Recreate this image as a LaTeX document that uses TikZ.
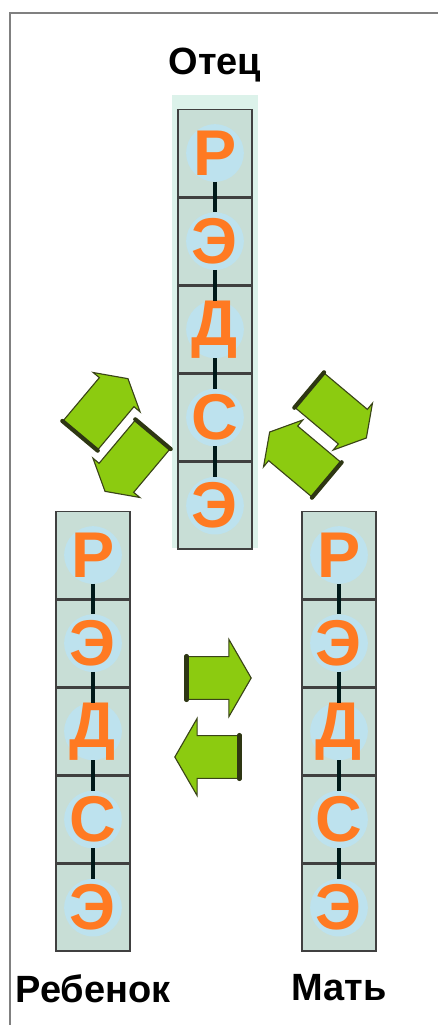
\documentclass[tikz,border=0pt]{standalone}
\usepackage{fontspec}
\setmainfont{Liberation Sans}
\usetikzlibrary{positioning}
\usetikzlibrary{shapes.arrows}

\definecolor{cellfill}{HTML}{C8DED6}
\definecolor{blob}{HTML}{BDE2EE}
\definecolor{panel}{HTML}{DCF2EA}
\definecolor{letter}{HTML}{FF7A22}
\definecolor{arrowfill}{HTML}{8CCB10}
\definecolor{arrowedge}{HTML}{3A4418}

\begin{document}
\begin{tikzpicture}[x=0.025cm,y=-0.025cm,
		cell/.style={rectangle,draw=black!75,line width=1.1pt,fill=cellfill,
			minimum width=1.85cm,minimum height=2.165cm,inner sep=0pt,
			path picture={\fill[blob] (path picture bounding box.center) circle (0.72cm);},
			font=\fontsize{46}{46}\selectfont\bfseries,text=letter},
		link/.style={line width=3.5pt,draw=black!80!teal,shorten <=0.72cm,shorten >=0.72cm},
		swap arrow/.style={single arrow,draw=arrowedge,fill=arrowfill,line width=0.8pt,
			inner xsep=0pt,inner ysep=0.55cm,single arrow head indent=0cm,
			single arrow tip angle=120,single arrow head extend=0.2cm,minimum height=1.85cm},
		tail edge/.style={line width=3pt,draw=arrowedge!80!black,line cap=round},
		name label/.style={font=\fontsize{27}{27}\selectfont\bfseries}]

	\useasboundingbox (0,0) rectangle (438,1025);
	\draw[gray,line width=2pt] (10,1025) -- (10,13) -- (438,13);

	% father column
	\fill[panel] (172,95) rectangle (258,548);
	\node[cell] (f1) at (215,153) {Р};
	\node[cell] (f2) [below=0cm of f1] {Э};
	\node[cell] (f3) [below=0cm of f2] {Д};
	\node[cell] (f4) [below=0cm of f3] {С};
	\node[cell] (f5) [below=0cm of f4] {Э};
	\node[name label] (father) [above=0.55cm of f1] {Отец};

	% child column
	\node[cell] (c1) at (93,555) {Р};
	\node[cell] (c2) [below=0cm of c1] {Э};
	\node[cell] (c3) [below=0cm of c2] {Д};
	\node[cell] (c4) [below=0cm of c3] {С};
	\node[cell] (c5) [below=0cm of c4] {Э};
	\node[name label] (child) [below=0.45cm of c5] {Ребенок};

	% mother column
	\node[cell] (m1) at (339,555) {Р};
	\node[cell] (m2) [below=0cm of m1] {Э};
	\node[cell] (m3) [below=0cm of m2] {Д};
	\node[cell] (m4) [below=0cm of m3] {С};
	\node[cell] (m5) [below=0cm of m4] {Э};
	\node[name label] (mother) [below=0.45cm of m5] {Мать};

	\foreach \col in {f,c,m} {
		\draw[link] (\col1.center) -- (\col2.center);
		\draw[link] (\col2.center) -- (\col3.center);
		\draw[link] (\col3.center) -- (\col4.center);
		\draw[link] (\col4.center) -- (\col5.center);
	}

	% exchange arrows
	\node[swap arrow,rotate=50] (a1) at (100,412) {};
	\node[swap arrow,rotate=-130] (a2) at (133,458) {};
	\node[swap arrow,rotate=-40] (a3) at (333,410) {};
	\node[swap arrow,rotate=140] (a4) at (303,460) {};
	\node[swap arrow,minimum height=1.6cm,inner ysep=0.52cm,single arrow head extend=0.43cm] (a5) at (213,678) {};
	\node[swap arrow,minimum height=1.6cm,inner ysep=0.52cm,single arrow head extend=0.43cm,rotate=180] (a6) at (213,757) {};

	\foreach \a in {a1,a2,a3,a4,a5,a6}
		\draw[tail edge] (\a.before tail) -- (\a.after tail);

\end{tikzpicture}
\end{document}
